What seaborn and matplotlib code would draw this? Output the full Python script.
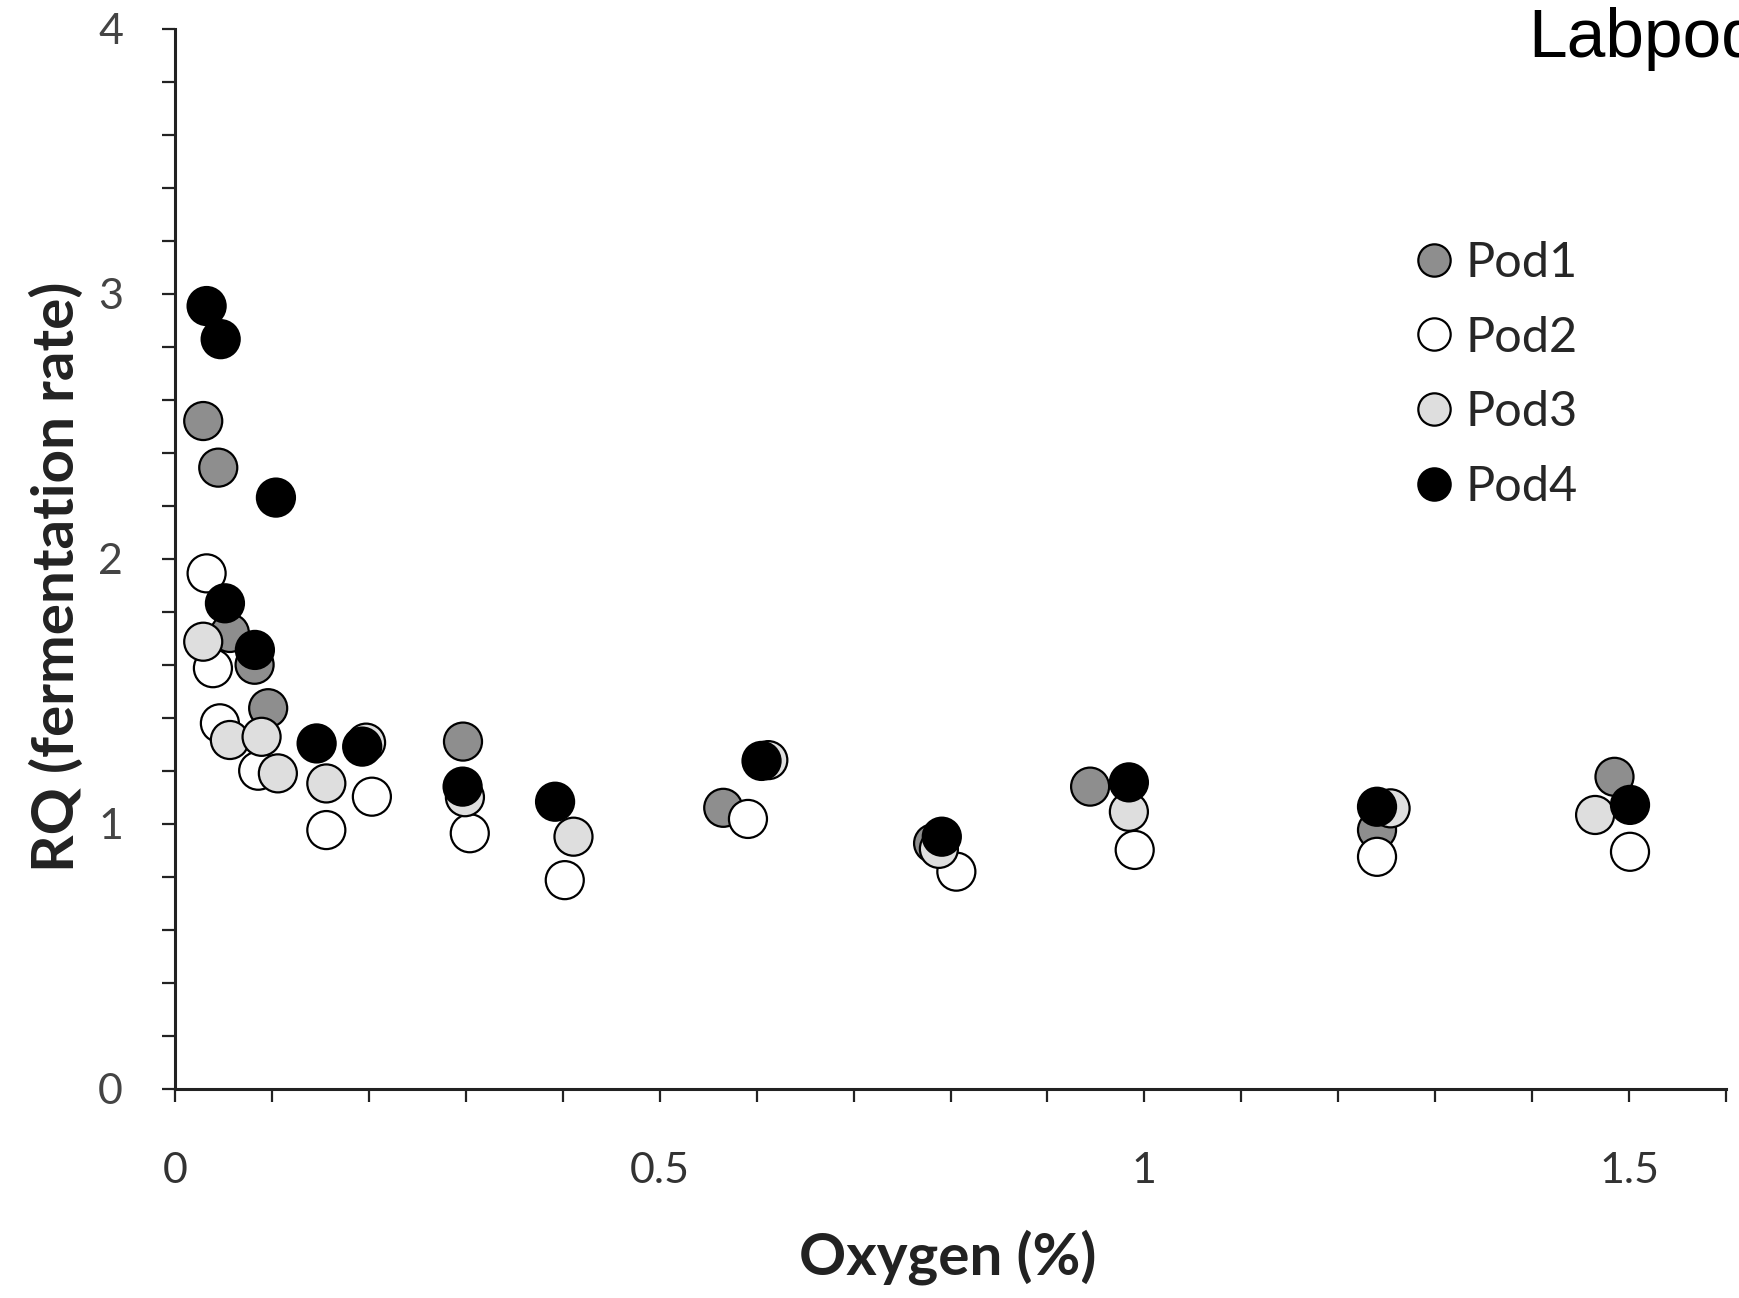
import matplotlib
matplotlib.use("Agg")
import matplotlib.pyplot as plt
import matplotlib.ticker as mticker
import seaborn as sns
import pandas as pd

# Oxygen (%) and RQ readings per pod
pod1_o2 = [0.029, 0.0445, 0.0565, 0.082, 0.096, 0.297, 0.5655, 0.782, 0.944, 1.240, 1.485]
pod1_rq = [2.52, 2.344, 1.72, 1.60, 1.436, 1.31, 1.06, 0.926, 1.14, 0.976, 1.177]

pod2_o2 = [0.0325, 0.039, 0.0462, 0.0857, 0.156, 0.203, 0.304, 0.402, 0.591, 0.806, 0.990, 1.240, 1.501]
pod2_rq = [1.945, 1.587, 1.379, 1.20, 0.976, 1.102, 0.964, 0.787, 1.018, 0.819, 0.901, 0.875, 0.894]

pod3_o2 = [0.029, 0.0565, 0.0892, 0.106, 0.156, 0.197, 0.299, 0.411, 0.612, 0.788, 0.984, 1.254, 1.465]
pod3_rq = [1.687, 1.316, 1.328, 1.19, 1.152, 1.306, 1.10, 0.951, 1.24, 0.905, 1.045, 1.058, 1.033]

pod4_o2 = [0.0325, 0.047, 0.104, 0.0514, 0.0823, 0.146, 0.193, 0.2966, 0.392, 0.605, 0.791, 0.984, 1.240, 1.501]
pod4_rq = [2.954, 2.829, 2.231, 1.832, 1.656, 1.303, 1.291, 1.140, 1.083, 1.237, 0.951, 1.156, 1.064, 1.071]

pods = ["Pod1", "Pod2", "Pod3", "Pod4"]
pod_colors = {"Pod1": "#8e8e8e", "Pod2": "#ffffff", "Pod3": "#dedede", "Pod4": "#000000"}

df = pd.concat([
    pd.DataFrame({"o2": pod1_o2, "rq": pod1_rq, "pod": "Pod1"}),
    pd.DataFrame({"o2": pod2_o2, "rq": pod2_rq, "pod": "Pod2"}),
    pd.DataFrame({"o2": pod3_o2, "rq": pod3_rq, "pod": "Pod3"}),
    pd.DataFrame({"o2": pod4_o2, "rq": pod4_rq, "pod": "Pod4"}),
], ignore_index=True)

sns.set_style("ticks")
plt.rcParams["font.family"] = ["Lato", "DejaVu Sans"]

fig = plt.figure(figsize=(17.39, 12.98), dpi=100)
ax = fig.add_axes([0.1007, 0.1613, 0.8918, 0.8164])

sns.scatterplot(data=df, x="o2", y="rq", hue="pod", hue_order=pods,
                palette=pod_colors, s=750, edgecolor="black", linewidth=1.6,
                clip_on=False, ax=ax, zorder=3)

ax.set_xlim(0, 1.6)
ax.set_ylim(0, 4)
ax.xaxis.set_major_locator(mticker.FixedLocator([0, 0.5, 1, 1.5]))
ax.xaxis.set_minor_locator(mticker.MultipleLocator(0.1))
ax.yaxis.set_major_locator(mticker.MultipleLocator(1))
ax.yaxis.set_minor_locator(mticker.MultipleLocator(0.2))
ax.xaxis.set_major_formatter(mticker.FuncFormatter(lambda v, p: f"{v:g}"))
ax.yaxis.set_major_formatter(mticker.FuncFormatter(lambda v, p: f"{v:g}"))

sns.despine(ax=ax)
for side in ["left", "bottom"]:
    ax.spines[side].set_linewidth(2.2)
    ax.spines[side].set_color("#222222")

ax.tick_params(axis="both", which="both", direction="out", length=9.5, width=1.6, color="#222222")
ax.tick_params(axis="x", which="major", labelsize=31, pad=36, labelcolor="#333333")
ax.tick_params(axis="y", which="major", labelsize=31, pad=28, labelcolor="#444444")

ax.set_xlabel("Oxygen (%)", fontsize=42, fontweight="bold", color="#222222")
ax.set_ylabel("RQ (fermentation rate)", fontsize=42, fontweight="bold", color="#222222")
ax.xaxis.set_label_coords(0.498, -0.133)
ax.yaxis.set_label_coords(-0.059, 0.483)

leg = ax.get_legend()
handles = leg.legend_handles
labels = [t.get_text() for t in leg.texts]
leg.remove()
ax.legend(handles, labels, loc="upper left", bbox_to_anchor=(0.796, 0.80),
          frameon=False, fontsize=35, handlelength=1.0, handletextpad=0.15,
          labelspacing=0.63, borderpad=0, borderaxespad=0, markerscale=0.85)

fig.text(1528 / 1739, 1 - 57 / 1298, "Labpod", fontsize=50,
         family="Liberation Sans", color="black", ha="left", va="baseline")

plt.savefig("out.png", dpi=100)
